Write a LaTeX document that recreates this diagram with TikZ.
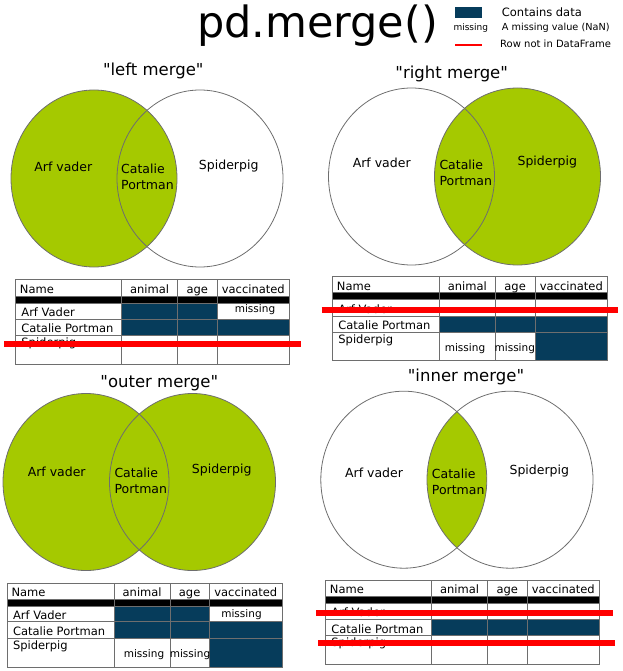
\documentclass[tikz,border=0pt]{standalone}
\usepackage{fontspec}
\setmainfont{DejaVu Sans}
\definecolor{venngreen}{HTML}{A5C900}
\definecolor{datacell}{HTML}{063C5B}
\definecolor{gridgray}{HTML}{6E6E6E}
\tikzset{
  vennline/.style={draw=gridgray, line width=0.8pt},
  vennfill/.style={fill=venngreen},
  vtitle/.style={font=\fontsize{16.5}{20}\selectfont, inner sep=0pt},
  vlabel/.style={font=\fontsize{12.5}{16}\selectfont, inner sep=0pt, align=left},
  tgrid/.style={draw=gridgray, line width=0.9pt},
  ttext/.style={font=\fontsize{11.5}{14}\selectfont, inner sep=0pt},
  tmiss/.style={font=\fontsize{10.5}{12}\selectfont, inner sep=0pt, anchor=base},
  rowout/.style={draw=red, line width=6pt},
  datafill/.style={fill=datacell},
}
\newcommand\qq{\XeTeXglyph\XeTeXglyphindex "quotedbl"\relax}
\newcommand\tabx[5]{\def\tXa{#1}\def\tXb{#2}\def\tXc{#3}\def\tXd{#4}\def\tXe{#5}}
\newcommand\taby[6]{\def\tYa{#1}\def\tYb{#2}\def\tYc{#3}\def\tYd{#4}\def\tYe{#5}\def\tYf{#6}}
\newcommand\dfgrid[1]{%
  \fill[black] (\tXa,\tYb) rectangle (\tXe,\tYc);
  \foreach \yy in {\tYb,\tYc,\tYd,\tYe} {\draw[tgrid] (\tXa,\yy) -- (\tXe,\yy);}
  \foreach \xx in {\tXb,\tXc,\tXd} {\draw[tgrid] (\xx,\tYa) -- (\xx,\tYf);}
  \draw[tgrid] (\tXa,\tYa) rectangle (\tXe,\tYf);
  \node[ttext,anchor=base west] (#1name) at (\tXa+4,\tYb-2.7) {Name};
  \node[ttext,anchor=base] (#1animal) at ({(\tXb+\tXc)/2},\tYb-2.7) {animal};
  \node[ttext,anchor=base] (#1age) at ({(\tXc+\tXd)/2},\tYb-2.7) {age};
  \node[ttext,anchor=base] (#1vacc) at ({(\tXd+\tXe)/2},\tYb-2.7) {vaccinated};
  \node[ttext,anchor=base west] (#1arf) at (\tXa+5.5,\tYd-2.5) {Arf Vader};
  \node[ttext,anchor=base west] (#1cat) at (\tXa+5.5,\tYe-2.7) {Catalie Portman};
  \node[ttext,anchor=base west] (#1spi) at (\tXa+5.5,\tYe+11) {Spiderpig};
}
\begin{document}
\begin{tikzpicture}[x=1pt,y=-1pt]
\useasboundingbox (0,0) rectangle (622,671);

% ---------- title and legend ----------
\node[font=\fontsize{43}{50}\selectfont, inner sep=0pt] (title) at (317.5,26) {pd.merge()};
\fill[datacell] (455,7.3) rectangle (481.7,18.3);
\node[font=\fontsize{9}{11}\selectfont, inner sep=0pt] (legmiss) at (470.8,28.3) {missing};
\draw[red, line width=2pt] (455,45) -- (481.7,45);
\node[font=\fontsize{11.5}{14}\selectfont, inner sep=0pt, anchor=west] (legdata) at (501.7,12.7) {Contains data};
\node[font=\fontsize{9.7}{12}\selectfont, inner sep=0pt, anchor=west] (legnan) at (501.7,28.3) {A missing value (NaN)};
\node[font=\fontsize{10}{12}\selectfont, inner sep=0pt, anchor=west] (legrow) at (500,43.3) {Row not in DataFrame};

% ---------- left merge ----------
\node[vtitle] (lefttitle) at (153.3,70.7) {\qq left merge\qq};
\fill[vennfill] (94,178.5) ellipse [x radius=83pt, y radius=88.5pt];
\draw[vennline] (94,178.5) ellipse [x radius=83pt, y radius=88.5pt];
\draw[vennline] (200,178.5) ellipse [x radius=83pt, y radius=88.5pt];
\node[vlabel] (leftarf) at (63.3,167.3) {Arf vader};
\node[vlabel,anchor=west] (leftcat) at (121,177) {Catalie\\Portman};
\node[vlabel] (leftspi) at (228.7,165.7) {Spiderpig};

% ---------- right merge ----------
\node[vtitle] (righttitle) at (451.7,74.3) {\qq right merge\qq};
\fill[vennfill] (517.5,176.5) ellipse [x radius=83pt, y radius=88.5pt];
\draw[vennline] (411.5,176.5) ellipse [x radius=83pt, y radius=88.5pt];
\draw[vennline] (517.5,176.5) ellipse [x radius=83pt, y radius=88.5pt];
\node[vlabel] (rightarf) at (381.7,162.7) {Arf vader};
\node[vlabel,anchor=west] (rightcat) at (439.3,172.7) {Catalie\\Portman};
\node[vlabel] (rightspi) at (547.3,161.7) {Spiderpig};

% ---------- outer merge ----------
\node[vtitle] (outertitle) at (159.3,382.7) {\qq outer merge\qq};
\fill[vennfill] (86,482) ellipse [x radius=83pt, y radius=88.5pt];
\fill[vennfill] (192.5,482) ellipse [x radius=83pt, y radius=88.5pt];
\draw[vennline] (86,482) ellipse [x radius=83pt, y radius=88.5pt];
\draw[vennline] (192.5,482) ellipse [x radius=83pt, y radius=88.5pt];
\node[vlabel] (outerarf) at (56.7,471.7) {Arf vader};
\node[vlabel,anchor=west] (outercat) at (114.3,481) {Catalie\\Portman};
\node[vlabel] (outerspi) at (221.7,470) {Spiderpig};

% ---------- inner merge ----------
\node[vtitle] (innertitle) at (466,377.3) {\qq inner merge\qq};
\begin{scope}
  \clip (403.8,479.7) ellipse [x radius=83pt, y radius=88.5pt];
  \fill[vennfill] (510,479.7) ellipse [x radius=83pt, y radius=88.5pt];
\end{scope}
\draw[vennline] (403.8,479.7) ellipse [x radius=83pt, y radius=88.5pt];
\draw[vennline] (510,479.7) ellipse [x radius=83pt, y radius=88.5pt];
\node[vlabel] (innerarf) at (374,472.7) {Arf vader};
\node[vlabel,anchor=west] (innercat) at (431.7,482.2) {Catalie\\Portman};
\node[vlabel] (innerspi) at (539.3,471) {Spiderpig};

% ---------- table 1 (left) ----------
\tabx{15.7}{121.7}{177.3}{217.3}{289.3}
\taby{279.3}{296}{303.3}{319}{335}{364.3}
\fill[datafill] (\tXb,\tYc) rectangle (\tXd,\tYe);
\fill[datafill] (\tXd,\tYd) rectangle (\tXe,\tYe);
\dfgrid{ta}
\node[tmiss] (tamiss) at (255,312.7) {missing};
\draw[rowout] (4,344) -- (301,344);

% ---------- table 2 (right) ----------
\tabx{332.7}{439.3}{495.3}{535}{607.7}
\taby{276.7}{292.7}{299.3}{316}{332}{360.7}
\fill[datafill] (\tXb,\tYd) rectangle (\tXe,\tYe);
\fill[datafill] (\tXd,\tYe) rectangle (\tXe,\tYf);
\dfgrid{tb}
\node[tmiss] (tbmissa) at (465,351.7) {missing};
\node[tmiss] (tbmissb) at (514.8,351.7) {missing};
\draw[rowout] (321.7,309.7) -- (618,309.7);

% ---------- table 3 (outer) ----------
\tabx{7.3}{114.3}{170}{209.3}{282.3}
\taby{583.3}{599}{606}{621.7}{638.3}{667}
\fill[datafill] (\tXb,\tYc) rectangle (\tXd,\tYe);
\fill[datafill] (\tXd,\tYd) rectangle (\tXe,\tYf);
\dfgrid{tc}
\node[tmiss] (tcmiss) at (241.5,617.3) {missing};
\node[tmiss] (tcmissa) at (144,657.3) {missing};
\node[tmiss] (tcmissb) at (190,657.3) {missing};

% ---------- table 4 (inner) ----------
\tabx{325.7}{431.7}{487.3}{527.3}{599.3}
\taby{580}{596}{603.3}{619}{635.7}{664.3}
\fill[datafill] (\tXb,\tYd) rectangle (\tXe,\tYe);
\dfgrid{td}
\draw[rowout] (316,613) -- (612.7,613);
\draw[rowout] (318,643) -- (615,643);
\end{tikzpicture}
\end{document}
